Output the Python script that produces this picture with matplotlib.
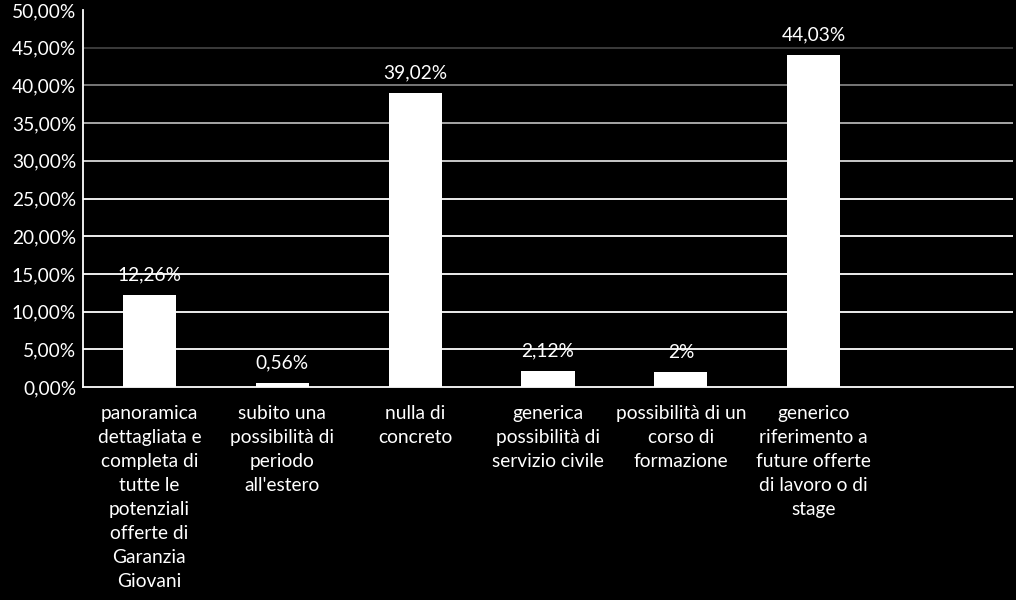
import matplotlib
matplotlib.use("Agg")
import matplotlib.pyplot as plt
import numpy as np

categories = [
    "panoramica\ndettagliata e\ncompleta di\ntutte le\npotenziali\nofferte di\nGaranzia\nGiovani",
    "subito una\npossibilità di\nperiodo\nall'estero",
    "nulla di\nconcreto",
    "generica\npossibilità di\nservizio civile",
    "possibilità di un\ncorso di\nformazione",
    "generico\nriferimento a\nfuture offerte\ndi lavoro o di\nstage",
    "",
]
values = [12.26, 0.56, 39.02, 2.12, 2.0, 44.03, None]
value_labels = ["12,26%", "0,56%", "39,02%", "2,12%", "2%", "44,03%", ""]
yticks = [0, 5, 10, 15, 20, 25, 30, 35, 40, 45, 50]
ytick_labels = ["0,00%", "5,00%", "10,00%", "15,00%", "20,00%", "25,00%",
                "30,00%", "35,00%", "40,00%", "45,00%", "50,00%"]
grid_colors = {5: "white", 10: "white", 15: "white", 20: "white", 25: "white",
               30: "#d9d9d9", 35: "#b3b3b3", 40: "#808080", 45: "#404040"}

plt.rcParams['font.family'] = ['Lato', 'DejaVu Sans']

fig = plt.figure(figsize=(10.16, 6.0), dpi=100, facecolor="black")
ax = fig.add_axes([83/1016, 1 - 387/600, (1013-83)/1016, (387-10)/600])
ax.set_facecolor("black")

x = np.arange(len(categories))
ax.set_xlim(-0.5, len(categories) - 0.5)
ax.set_ylim(0, 50)

for yv, c in grid_colors.items():
    ax.axhline(yv, color=c, lw=1.3, zorder=1)

for xi, v, lab in zip(x, values, value_labels):
    if v is None:
        continue
    ax.bar(xi, v, width=0.4, color="white", zorder=3)
    ax.text(xi, v + 1.5, lab, ha="center", va="bottom", color="white",
            fontsize=13.8, zorder=4)

ax.set_yticks(yticks)
ax.set_yticklabels(ytick_labels, color="white", fontsize=13.8)
ax.set_xticks(x)
ax.set_xticklabels(categories, color="white", fontsize=13.8, va="top",
                   linespacing=1.5)
ax.tick_params(axis="both", length=0)
ax.tick_params(axis="x", pad=13)
ax.tick_params(axis="y", pad=5)

for s in ["top", "right"]:
    ax.spines[s].set_visible(False)
for s in ["left", "bottom"]:
    ax.spines[s].set_color("white")
    ax.spines[s].set_linewidth(1.3)

fig.savefig("out.png", dpi=100, facecolor="black")
